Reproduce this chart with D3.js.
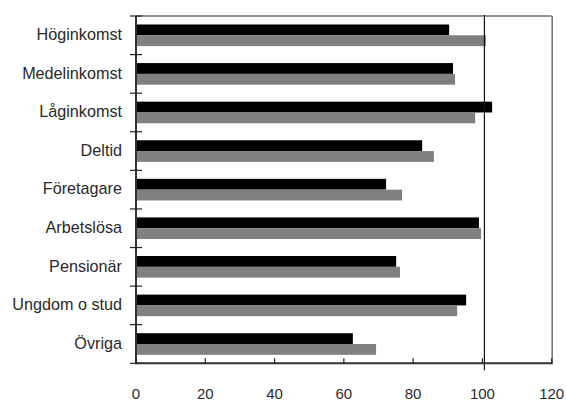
<!DOCTYPE html>
<html><head><meta charset="utf-8">
<script src="https://cdn.jsdelivr.net/npm/d3@7"></script>
<style>body{margin:0;background:#fff}svg{display:block}text{font-family:"Liberation Sans",Arial,sans-serif;fill:#2a2a2a}</style>
</head><body><svg id="c" width="566" height="401"></svg>
<script>
const categories = ["Höginkomst","Medelinkomst","Låginkomst","Deltid","Företagare","Arbetslösa","Pensionär","Ungdom o stud","Övriga"];
const seriesBlack = [90.4, 91.5, 102.8, 82.6, 72.2, 99.0, 75.1, 95.3, 62.6];
const seriesGray  = [101.0, 92.1, 97.9, 86.0, 76.8, 99.6, 76.2, 92.7, 69.3];
const xTicks = [0,20,40,60,80,100,120];
const refValue = 100;

const svg = d3.select("#c");
const L = 136, R = 551.7, T = 16, B = 363.3;
const x = d3.scaleLinear().domain([0,120]).range([L,R]);
const y = d3.scaleBand().domain(categories).range([T,B]).padding(0);
const bh = y.bandwidth()*0.28;

const g = svg.append("g");
categories.forEach((c,i)=>{
  const cy = y(c)+y.bandwidth()/2;
  g.append("rect").attr("x",x(0)).attr("y",cy-bh).attr("width",x(seriesBlack[i])-x(0)).attr("height",bh).attr("fill","#000");
  g.append("rect").attr("x",x(0)).attr("y",cy).attr("width",x(seriesGray[i])-x(0)).attr("height",bh).attr("fill","#808080");
});

// frame top and right
svg.append("line").attr("x1",L).attr("x2",R).attr("y1",T).attr("y2",T).attr("stroke","#222").attr("stroke-width",1.2);
svg.append("line").attr("x1",R+0.5).attr("x2",R+0.5).attr("y1",T).attr("y2",B).attr("stroke","#777").attr("stroke-width",1.6);
// reference line
svg.append("line").attr("x1",x(refValue)+2).attr("x2",x(refValue)+2).attr("y1",T-1).attr("y2",B+7).attr("stroke","#111").attr("stroke-width",1.2);

// y axis
const yb = d3.range(categories.length+1).map(i=>T+i*y.bandwidth());
svg.append("line").attr("x1",L).attr("x2",L).attr("y1",T).attr("y2",B+1).attr("stroke","#333").attr("stroke-width",2);
yb.forEach(v=>svg.append("line").attr("x1",L-6).attr("x2",L+6).attr("y1",v).attr("y2",v).attr("stroke","#222").attr("stroke-width",1.2));
categories.forEach(c=>{
  svg.append("text").attr("x",122).attr("y",y(c)+y.bandwidth()/2-1).attr("dy","0.36em").attr("text-anchor","end").attr("font-size",16.2).text(c);
});

// x axis
svg.append("line").attr("x1",L-1).attr("x2",R+1).attr("y1",B).attr("y2",B).attr("stroke","#333").attr("stroke-width",2);
xTicks.forEach(t=>{
  svg.append("line").attr("x1",x(t)).attr("x2",x(t)).attr("y1",B-5).attr("y2",B).attr("stroke","#222").attr("stroke-width",1.2);
  svg.append("text").attr("x",x(t)).attr("y",399).attr("text-anchor","middle").attr("font-size",15).text(t);
});
</script></body></html>
